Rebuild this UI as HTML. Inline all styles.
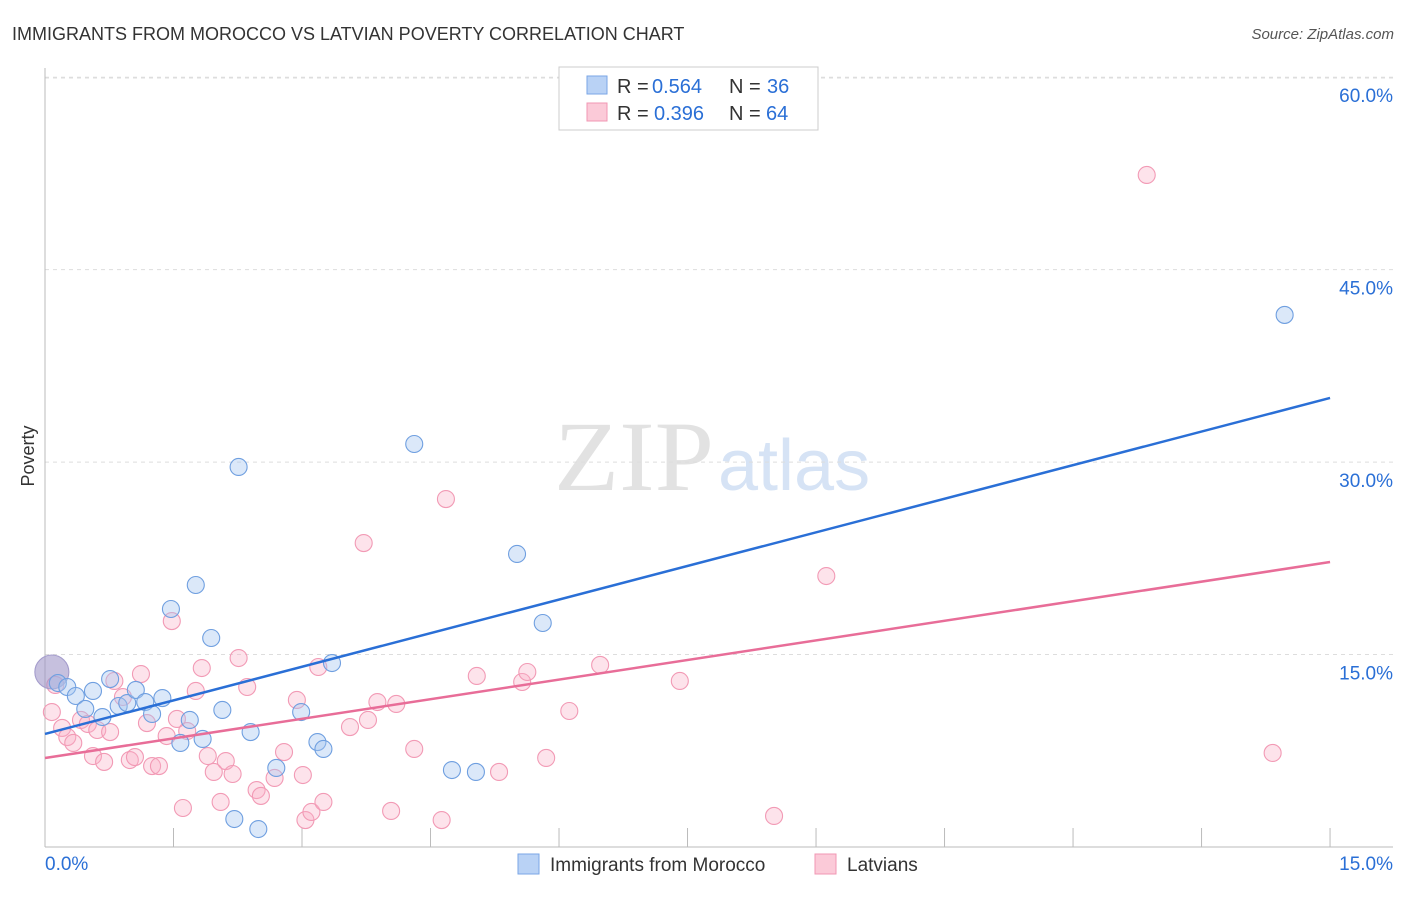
<!DOCTYPE html>
<html><head><meta charset="utf-8">
<style>
body{margin:0;background:#fff;font-family:"Liberation Sans",sans-serif;}
svg text{font-family:"Liberation Sans",sans-serif;}
</style></head>
<body>
<svg id="chart" width="1406" height="892" xmlns="http://www.w3.org/2000/svg">
<text x="12" y="40" font-size="18" fill="#333">IMMIGRANTS FROM MOROCCO VS LATVIAN POVERTY CORRELATION CHART</text>
<text x="1394" y="39" font-size="15" fill="#555" text-anchor="end" font-style="italic">Source: ZipAtlas.com</text>
<text x="554" y="490" font-size="100" fill="#e2e2e2" font-family="Liberation Serif" textLength="160" lengthAdjust="spacingAndGlyphs" style="font-family:'Liberation Serif',serif">ZIP</text>
<text x="718" y="490" font-size="72" fill="#d6e3f5">atlas</text>
<text transform="translate(34,456) rotate(-90)" font-size="18" fill="#333" text-anchor="middle">Poverty</text>
<g id="grid"></g>
<g id="axes"></g>
<g id="pts"></g>
<g id="lines"></g>
<g>
<rect x="559" y="67" width="259" height="63" fill="#fff" stroke="#ccc"/>
<rect x="587" y="76" width="20" height="18" fill="#b9d2f5" stroke="#7aa6e6"/>
<rect x="587" y="103" width="20" height="18" fill="#fbcad8" stroke="#f097b3"/>
<text x="617" y="93" font-size="20" fill="#333">R =</text>
<text x="652" y="93" font-size="20" fill="#2a6fd6">0.564</text>
<text x="729" y="93" font-size="20" fill="#333">N =</text>
<text x="767" y="93" font-size="20" fill="#2a6fd6">36</text>
<text x="617" y="120" font-size="20" fill="#333">R =</text>
<text x="654" y="120" font-size="20" fill="#2a6fd6">0.396</text>
<text x="729" y="120" font-size="20" fill="#333">N =</text>
<text x="766" y="120" font-size="20" fill="#2a6fd6">64</text>
</g>
<g>
<rect x="518" y="854" width="21" height="20" fill="#b9d2f5" stroke="#7aa6e6"/>
<text x="550" y="871" font-size="19" fill="#333">Immigrants from Morocco</text>
<rect x="815" y="854" width="21" height="20" fill="#fbcad8" stroke="#f097b3"/>
<text x="847" y="871" font-size="19" fill="#333">Latvians</text>
</g>
</svg>
<script>
const xTicks=[0,1.5,3,4.5,6,7.5,9,10.5,12,13.5,15];
const yTicks=[15,30,45,60];
const yTickLabels=["15.0%","30.0%","45.0%","60.0%"];
const blueX=[0.08,0.15,0.26,0.36,0.47,0.56,0.67,0.76,0.86,0.96,1.06,1.17,1.25,1.37,1.47,1.58,1.69,1.76,1.84,1.94,2.07,2.26,2.21,2.40,2.49,2.70,2.99,3.18,3.25,3.35,4.31,4.75,5.03,5.51,5.81,14.47];
const blueY=[13.64,12.78,12.47,11.77,10.76,12.16,10.13,13.09,10.99,11.22,12.24,11.30,10.37,11.61,18.55,8.11,9.90,20.42,8.42,16.29,10.68,29.62,2.18,8.96,1.40,6.16,10.52,8.18,7.64,14.34,31.41,6.00,5.85,22.84,17.46,41.47];
const pinkX=[0.08,0.12,0.20,0.26,0.33,0.42,0.50,0.56,0.61,0.69,0.76,0.81,0.91,0.99,1.05,1.12,1.19,1.25,1.33,1.42,1.48,1.54,1.61,1.66,1.76,1.83,1.90,1.97,2.05,2.11,2.19,2.26,2.36,2.47,2.52,2.68,2.79,2.94,3.01,3.04,3.11,3.19,3.25,3.56,3.72,3.77,3.88,4.04,4.10,4.31,4.63,4.68,5.04,5.30,5.57,5.63,5.85,6.12,6.48,7.41,8.51,9.12,12.86,14.33];
const pinkY=[10.52,12.63,9.28,8.57,8.11,9.90,9.59,7.09,9.12,6.63,8.96,12.94,11.69,6.78,7.01,13.48,9.66,6.31,6.31,8.65,17.61,9.98,3.04,9.04,12.16,13.95,7.09,5.85,3.51,6.70,5.69,14.73,12.47,4.44,3.98,5.38,7.40,11.46,5.61,2.10,2.73,14.03,3.51,9.35,23.69,9.90,11.30,2.81,11.15,7.64,2.10,27.12,13.33,5.85,12.86,13.64,6.94,10.60,14.19,12.94,2.42,21.12,52.38,7.33];
const blueTrend=[8.81,35.0];
const pinkTrend=[6.94,22.21];
const trendX=[0,15];

const X=v=>45+v*85.67;
const Y=v=>847-v*12.83;
const NS="http://www.w3.org/2000/svg";
function mk(tag,attrs,parent){const e=document.createElementNS(NS,tag);for(const k in attrs)e.setAttribute(k,attrs[k]);parent.appendChild(e);return e;}
const grid=document.getElementById('grid'),axes=document.getElementById('axes'),pts=document.getElementById('pts'),lines=document.getElementById('lines');
let g=mk('line',{x1:45,x2:1393,y1:78,y2:78,stroke:'#ddd','stroke-dasharray':'4,4'},grid);


yTicks.forEach((t,i)=>{
 const l=mk('line',{x1:45,x2:1393,y1:Y(t),y2:Y(t),stroke:'#ddd','stroke-dasharray':'4,4'},grid);
 
 
 const tx=mk('text',{x:1393,y:Y(t)+25,'font-size':19,fill:'#2a6fd6','text-anchor':'end'},axes);
 tx.textContent=yTickLabels[i];
 
 
});
let a=mk('line',{x1:45,x2:45,y1:68,y2:847,stroke:'#bbb'},axes);


a=mk('line',{x1:45,x2:1393,y1:847,y2:847,stroke:'#bbb'},axes);


xTicks.forEach(t=>{
 const l=mk('line',{x1:X(t),x2:X(t),y1:828,y2:847,stroke:'#bbb'},axes);
 
 
});
let xl=mk('text',{x:45,y:870,'font-size':19,fill:'#2a6fd6'},axes);xl.textContent='0.0%';


xl=mk('text',{x:1393,y:870,'font-size':19,fill:'#2a6fd6','text-anchor':'end'},axes);xl.textContent='15.0%';


pinkX.forEach((v,i)=>{
 const c=mk('circle',{cx:X(v),cy:Y(pinkY[i]),r:8.5,fill:'rgba(248,175,198,0.35)',stroke:'#f29ab5','stroke-width':1.1},pts);
 
 
});
blueX.forEach((v,i)=>{
 const big=i===0;
 const c=mk('circle',{cx:X(v),cy:Y(blueY[i]),r:big?17:8.5,fill:big?'rgba(160,150,200,0.6)':'rgba(165,198,240,0.4)',stroke:big?'#a49ccc':'#6f9fe0','stroke-width':1.1},pts);
 
 
});
let tl=mk('line',{x1:X(trendX[0]),y1:Y(pinkTrend[0]),x2:X(trendX[1]),y2:Y(pinkTrend[1]),stroke:'#e86d98','stroke-width':2.5},lines);


tl=mk('line',{x1:X(trendX[0]),y1:Y(blueTrend[0]),x2:X(trendX[1]),y2:Y(blueTrend[1]),stroke:'#2a6fd6','stroke-width':2.5},lines);


</script>
</body></html>
